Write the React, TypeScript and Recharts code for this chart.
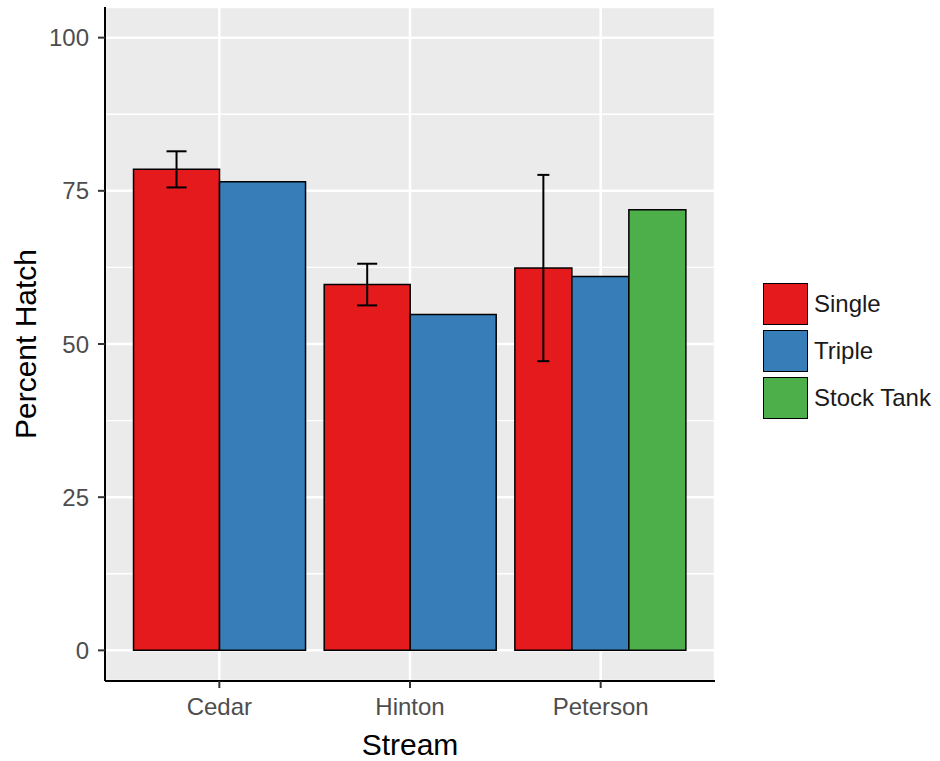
import React from 'react';
import {
  ComposedChart,
  Bar,
  XAxis,
  YAxis,
  CartesianGrid,
  ErrorBar,
} from 'recharts';

// ---- data ----
const streams = ['Cedar', 'Hinton', 'Peterson'];
const single = [78.5, 59.7, 62.4];
const singleErr = [2.95, 3.4, 15.2];
const triple = [76.5, 54.8, 61.0];
const stockTank: (number | null)[] = [null, null, 71.9];
const yTicks = [0, 25, 50, 75, 100];
const yMinor = [12.5, 37.5, 62.5, 87.5];
const seriesNames = ['Single', 'Triple', 'Stock Tank'];
const seriesColors = ['#E41A1C', '#377EB8', '#4DAF4A'];

// Groups with two bars are dodged across 2 slots, groups with three across 3
const data = streams.map((s, i) => {
  const three = stockTank[i] != null;
  return {
    stream: s,
    single2: three ? null : single[i],
    triple2: three ? null : triple[i],
    err2: three ? null : singleErr[i],
    single3: three ? single[i] : null,
    triple3: three ? triple[i] : null,
    stock3: three ? stockTank[i] : null,
    err3: three ? singleErr[i] : null,
  };
});

const FONT = '"Liberation Sans", Arial, sans-serif';
const TICK_COLOR = '#4D4D4D';

export default function App() {
  return (
    <div
      style={{
        position: 'absolute',
        left: 0,
        top: 0,
        width: 940,
        height: 761,
        background: '#ffffff',
        fontFamily: FONT,
      }}
    >
      <ComposedChart
        width={940}
        height={761}
        data={data}
        margin={{ top: 7, right: 225, bottom: 0, left: 0 }}
        barCategoryGap="5%"
        barGap={0}
      >
        <CartesianGrid
          xAxisId="two"
          fill="#EBEBEB"
          stroke="#FFFFFF"
          strokeWidth={2.5}
        />
        <CartesianGrid
          xAxisId="two"
          vertical={false}
          horizontalValues={yMinor}
          stroke="#FFFFFF"
          strokeWidth={1.3}
        />
        <XAxis
          xAxisId="two"
          dataKey="stream"
          height={80}
          padding={{ left: 19, right: 19 }}
          tickSize={7}
          tickMargin={10}
          axisLine={{ stroke: '#000000', strokeWidth: 2 }}
          tickLine={{ stroke: '#333333', strokeWidth: 2 }}
          tick={{ fill: TICK_COLOR, fontSize: 24, fontFamily: FONT }}
          label={{
            value: 'Stream',
            position: 'insideBottom',
            offset: 6,
            style: { fill: '#000000', fontSize: 30, fontFamily: FONT },
          }}
        />
        <XAxis
          xAxisId="three"
          dataKey="stream"
          hide
          orientation="top"
          height={0}
          padding={{ left: 19, right: 19 }}
        />
        <YAxis
          type="number"
          domain={[-5, 105]}
          ticks={yTicks}
          width={105}
          tickSize={7}
          tickMargin={9}
          axisLine={{ stroke: '#000000', strokeWidth: 2 }}
          tickLine={{ stroke: '#333333', strokeWidth: 2 }}
          tick={{ fill: TICK_COLOR, fontSize: 24, fontFamily: FONT }}
          label={{
            value: 'Percent Hatch',
            angle: -90,
            position: 'insideLeft',
            offset: 25,
            style: {
              fill: '#000000',
              fontSize: 30,
              fontFamily: FONT,
              textAnchor: 'middle',
            },
          }}
        />
        <Bar
          xAxisId="two"
          dataKey="single2"
          name={seriesNames[0]}
          fill={seriesColors[0]}
          stroke="#000000"
          strokeWidth={1.5}
          isAnimationActive={false}
        >
          <ErrorBar dataKey="err2" width={10} stroke="#000000" strokeWidth={2} />
        </Bar>
        <Bar
          xAxisId="two"
          dataKey="triple2"
          name={seriesNames[1]}
          fill={seriesColors[1]}
          stroke="#000000"
          strokeWidth={1.5}
          isAnimationActive={false}
        />
        <Bar
          xAxisId="three"
          dataKey="single3"
          name={seriesNames[0]}
          fill={seriesColors[0]}
          stroke="#000000"
          strokeWidth={1.5}
          isAnimationActive={false}
        >
          <ErrorBar dataKey="err3" width={6} stroke="#000000" strokeWidth={2} />
        </Bar>
        <Bar
          xAxisId="three"
          dataKey="triple3"
          name={seriesNames[1]}
          fill={seriesColors[1]}
          stroke="#000000"
          strokeWidth={1.5}
          isAnimationActive={false}
        />
        <Bar
          xAxisId="three"
          dataKey="stock3"
          name={seriesNames[2]}
          fill={seriesColors[2]}
          stroke="#000000"
          strokeWidth={1.5}
          isAnimationActive={false}
        />
      </ComposedChart>
      <div style={{ position: 'absolute', left: 763, top: 283 }}>
        {seriesNames.map((n, i) => (
          <div
            key={n}
            style={{ display: 'flex', alignItems: 'center', height: 42, marginBottom: 5 }}
          >
            <div
              style={{
                width: 45,
                height: 42,
                boxSizing: 'border-box',
                border: '1.5px solid #000000',
                background: seriesColors[i],
              }}
            />
            <span
              style={{
                marginLeft: 6,
                fontSize: 24,
                color: '#1a1a1a',
                fontFamily: FONT,
                whiteSpace: 'nowrap',
              }}
            >
              {n}
            </span>
          </div>
        ))}
      </div>
    </div>
  );
}
